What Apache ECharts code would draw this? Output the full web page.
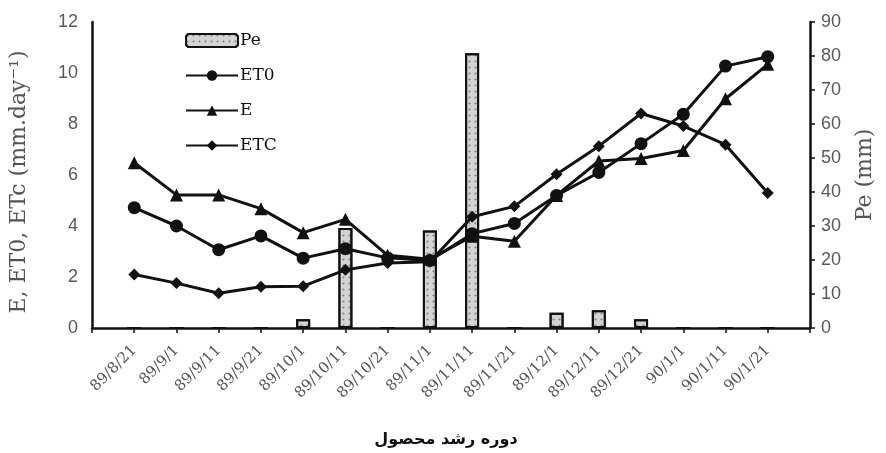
<!DOCTYPE html>
<html><head><meta charset="utf-8">
<script src="https://cdn.jsdelivr.net/npm/echarts@6/dist/echarts.min.js"></script>
<style>html,body{margin:0;padding:0;background:#fff}#c{width:886px;height:453px}</style>
</head><body><div id="c"></div>
<script>
const categories = ['89/8/21','89/9/1','89/9/11','89/9/21','89/10/1','89/10/11','89/10/21','89/11/1','89/11/11','89/11/21','89/12/1','89/12/11','89/12/21','90/1/1','90/1/11','90/1/21'];
const pe  = [0, 0, 0, 0, 2.6, 29.4, 0, 28.7, 80.8, 0, 4.5, 5.2, 2.6, 0, 0, 0];
const et0 = [4.72, 4.0, 3.07, 3.61, 2.74, 3.11, 2.75, 2.65, 3.7, 4.1, 5.2, 6.1, 7.23, 8.38, 10.27, 10.64];
const e   = [6.48, 5.22, 5.22, 4.68, 3.74, 4.26, 2.85, 2.7, 3.6, 3.4, 5.2, 6.55, 6.65, 6.96, 8.99, 10.34];
const etc = [2.1, 1.76, 1.36, 1.62, 1.64, 2.28, 2.55, 2.6, 4.36, 4.77, 6.03, 7.13, 8.41, 7.92, 7.19, 5.29];
const leftTicks = {min: 0, max: 12, interval: 2};
const rightTicks = {min: 0, max: 90, interval: 10};

const pad = a => [null].concat(a, [null]);
const cats = [''].concat(categories, ['']);
const serif = 'DejaVu Serif';
const sans = 'Liberation Sans';
const lineStyle = {color: '#111', width: 3};

const chart = echarts.init(document.getElementById('c'));
chart.setOption({
  animation: false,
  backgroundColor: '#fff',
  grid: {left: 90, right: 76, top: 22, bottom: 120},
  legend: {
    orient: 'vertical', left: 180, top: 27, itemWidth: 52, itemHeight: 13, itemGap: 18,
    textStyle: {fontFamily: serif, fontSize: 17, color: '#111', padding: [0,0,0,-3]},
    data: ['Pe', 'ET0', 'E', 'ETC']
  },
  xAxis: {
    type: 'category', data: cats, boundaryGap: false,
    axisLine: {lineStyle: {color: '#111', width: 2.5}},
    axisTick: {show: true, length: 5, lineStyle: {color: '#111', width: 1.5}, interval: 0},
    axisLabel: {interval: 0, rotate: 45, fontFamily: serif, fontSize: 15, color: '#555', margin: 20},
    name: 'دوره رشد محصول', nameLocation: 'middle', nameGap: 104,
    nameTextStyle: {fontFamily: 'DejaVu Sans', fontSize: 16, fontWeight: 'bold', color: '#111', padding: [0, 10, 0, 0]}
  },
  yAxis: [
    {
      type: 'value', min: leftTicks.min, max: leftTicks.max, interval: leftTicks.interval,
      splitLine: {show: false},
      axisLine: {show: true, lineStyle: {color: '#111', width: 2.5}},
      axisTick: {show: false},
      axisLabel: {fontFamily: sans, fontSize: 18, color: '#595959', margin: 14},
      name: 'E, ET0, ETc (mm.day⁻¹)', nameLocation: 'middle', nameGap: 62, nameRotate: 90,
      nameTextStyle: {fontFamily: serif, fontSize: 22, color: '#555', padding: [0, 14, 0, 0]}
    },
    {
      type: 'value', min: rightTicks.min, max: rightTicks.max, interval: rightTicks.interval,
      position: 'right', splitLine: {show: false},
      axisLine: {show: true, lineStyle: {color: '#111', width: 2.5}},
      axisTick: {show: true, inside: false, length: 5, lineStyle: {color: '#111', width: 1.5}},
      axisLabel: {fontFamily: sans, fontSize: 18, color: '#595959', margin: 11},
      name: 'Pe (mm)', nameLocation: 'middle', nameGap: 44, nameRotate: 90,
      nameTextStyle: {fontFamily: serif, fontSize: 22, color: '#555'}
    }
  ],
  series: [
    {
      name: 'Pe', type: 'bar', yAxisIndex: 1, data: pad(pe), barWidth: 14, z: 1,
      itemStyle: {
        color: '#d4d4d4', borderColor: '#111', borderWidth: 2,
        decal: {symbol: 'circle', symbolSize: 0.7, dashArrayX: 3, dashArrayY: 3, color: 'rgba(70,70,70,0.6)'}
      }
    },
    {name: 'ET0', type: 'line', data: pad(et0), symbol: 'circle', symbolSize: 13, z: 3,
     lineStyle: lineStyle, itemStyle: {color: '#111'}},
    {name: 'E', type: 'line', data: pad(e), symbol: 'triangle', symbolSize: 13, z: 3,
     lineStyle: lineStyle, itemStyle: {color: '#111'}},
    {name: 'ETC', type: 'line', data: pad(etc), symbol: 'diamond', symbolSize: 12, z: 3,
     lineStyle: lineStyle, itemStyle: {color: '#111'}}
  ]
});
</script></body></html>
